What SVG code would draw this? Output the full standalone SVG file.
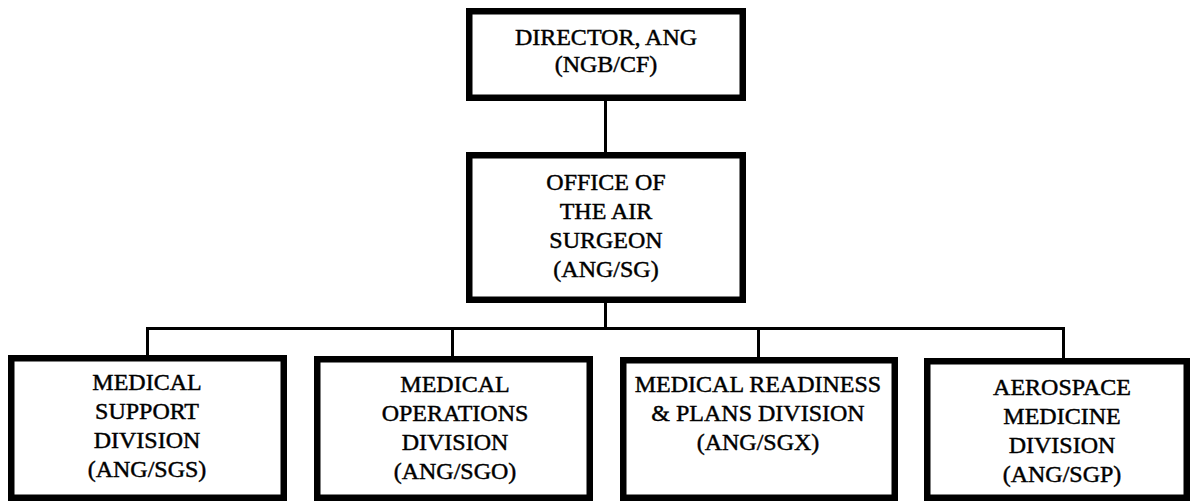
<svg xmlns="http://www.w3.org/2000/svg" width="1191" height="502" viewBox="0 0 1191 502">
  <style>
    .box { fill: #ffffff; stroke: #000000; stroke-width: 6.5; }
    .link { fill: none; stroke: #000000; stroke-width: 3; }
    .label { font-size: 24px; fill: #000000; stroke: #000000; stroke-width: 0.45; text-anchor: middle; }
  </style>
  <rect width="1191" height="502" fill="#ffffff"/>

  <!-- reporting lines -->
  <g id="connectors">
    <line class="link" x1="605.5" y1="98" x2="605.5" y2="152"/>
    <line class="link" x1="605.5" y1="303" x2="605.5" y2="328.5"/>
    <line class="link" x1="146" y1="328.5" x2="1065" y2="328.5"/>
    <line class="link" x1="147.5" y1="327" x2="147.5" y2="355"/>
    <line class="link" x1="452.5" y1="327" x2="452.5" y2="356"/>
    <line class="link" x1="758.5" y1="327" x2="758.5" y2="357"/>
    <line class="link" x1="1063.5" y1="327" x2="1063.5" y2="358"/>
  </g>

  <g font-family="Liberation Serif, Times New Roman, serif">
    <g id="director">
      <rect class="box" x="469.25" y="11.25" width="273.5" height="86.5"/>
      <text class="label" x="606" y="45">DIRECTOR, ANG</text>
      <text class="label" x="606" y="72">(NGB/CF)</text>
    </g>

    <g id="air-surgeon">
      <rect class="box" x="469.25" y="155.25" width="273.5" height="144.5"/>
      <text class="label" x="606" y="190">OFFICE OF</text>
      <text class="label" x="606" y="219">THE AIR</text>
      <text class="label" x="606" y="248">SURGEON</text>
      <text class="label" x="606" y="277">(ANG/SG)</text>
    </g>

    <g id="sgs">
      <rect class="box" x="11.25" y="358.25" width="272.5" height="139.5"/>
      <text class="label" x="147" y="390">MEDICAL</text>
      <text class="label" x="147" y="419">SUPPORT</text>
      <text class="label" x="147" y="448">DIVISION</text>
      <text class="label" x="147" y="477">(ANG/SGS)</text>
    </g>

    <g id="sgo">
      <rect class="box" x="317.25" y="359.25" width="272.5" height="138.5"/>
      <text class="label" x="455" y="392">MEDICAL</text>
      <text class="label" x="455" y="421">OPERATIONS</text>
      <text class="label" x="455" y="450">DIVISION</text>
      <text class="label" x="455" y="479">(ANG/SGO)</text>
    </g>

    <g id="sgx">
      <rect class="box" x="623.25" y="360.25" width="271.5" height="137.5"/>
      <text class="label" x="758" y="392">MEDICAL READINESS</text>
      <text class="label" x="758" y="421">&amp; PLANS DIVISION</text>
      <text class="label" x="758" y="450">(ANG/SGX)</text>
    </g>

    <g id="sgp">
      <rect class="box" x="927.25" y="361.25" width="259.5" height="136.5"/>
      <text class="label" x="1062" y="395">AEROSPACE</text>
      <text class="label" x="1062" y="424">MEDICINE</text>
      <text class="label" x="1062" y="453">DIVISION</text>
      <text class="label" x="1062" y="482">(ANG/SGP)</text>
    </g>
  </g>
</svg>
